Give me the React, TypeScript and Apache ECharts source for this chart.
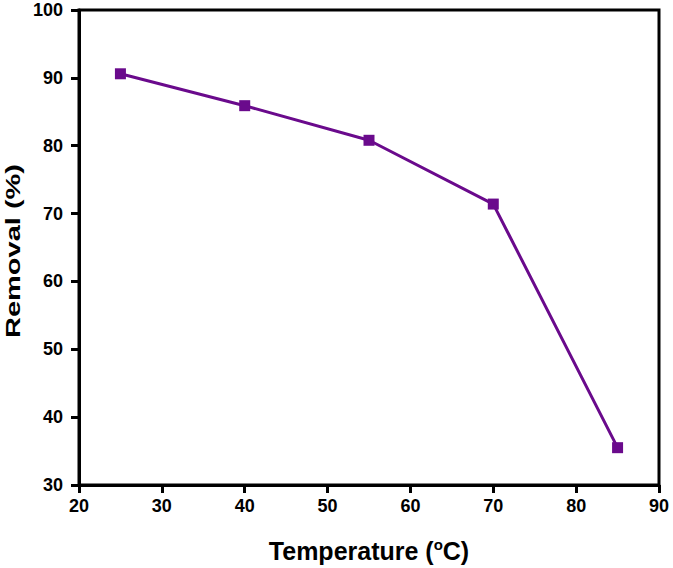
import React, { useEffect, useRef } from "react";
import * as echarts from "echarts";

const temperatures = [25, 40, 55, 70, 85];
const removal = [90.6, 85.9, 80.8, 71.4, 35.5];
const xTicks = [20, 30, 40, 50, 60, 70, 80, 90];
const yTicks = [30, 40, 50, 60, 70, 80, 90, 100];
const xTitle = "Temperature ({sup|o}C)";
const yTitle = "Removal (%)";

export default function App() {
  const ref = useRef<HTMLDivElement>(null);
  useEffect(() => {
    const chart = echarts.init(ref.current!, null, { renderer: "svg" });
    const font = "Liberation Sans, Arial, sans-serif";
    chart.setOption({
      animation: false,
      backgroundColor: "#fff",
      grid: {
        left: 79,
        right: 14,
        top: 10,
        bottom: 82,
        show: true,
        borderColor: "#000",
        borderWidth: 3,
        backgroundColor: "transparent",
      },
      graphic: [
        {
          type: "text",
          x: 13,
          y: 251,
          rotation: Math.PI / 2,
          scaleX: 1.38,
          scaleY: 1,
          style: {
            text: yTitle,
            fontFamily: font,
            fontWeight: "bold",
            fontSize: 21,
            fill: "#000",
            align: "center",
            verticalAlign: "middle",
          },
        },
      ],
      xAxis: {
        type: "value",
        min: xTicks[0],
        max: xTicks[xTicks.length - 1],
        interval: 10,
        name: xTitle,
        nameLocation: "middle",
        nameGap: 52,
        nameTextStyle: {
          fontFamily: font,
          fontWeight: "bold",
          fontSize: 25,
          color: "#000",
          rich: {
            sup: {
              fontFamily: font,
              fontWeight: "bold",
              fontSize: 15,
              color: "#000",
              verticalAlign: "top",
              padding: [0, 0, 12, 0],
            },
          },
        },
        axisLine: { show: true, lineStyle: { color: "#000", width: 3 } },
        axisTick: { show: true, length: 8, lineStyle: { color: "#000", width: 3 } },
        axisLabel: {
          fontFamily: font,
          fontWeight: "bold",
          fontSize: 18,
          color: "#000",
          margin: 12,
        },
        splitLine: { show: false },
      },
      yAxis: {
        type: "value",
        min: yTicks[0],
        max: yTicks[yTicks.length - 1],
        interval: 10,
        axisLine: { show: true, lineStyle: { color: "#000", width: 3 } },
        axisTick: { show: true, length: 8, lineStyle: { color: "#000", width: 3 } },
        axisLabel: {
          fontFamily: font,
          fontWeight: "bold",
          fontSize: 18,
          color: "#000",
          margin: 16,
        },
        splitLine: { show: false },
      },
      series: [
        {
          type: "line",
          data: temperatures.map((t, i) => [t, removal[i]]),
          symbol: "rect",
          symbolSize: 11,
          lineStyle: { color: "#6a0a8c", width: 3 },
          itemStyle: { color: "#6a0a8c" },
        },
      ],
    });
    return () => chart.dispose();
  }, []);
  return (
    <div
      ref={ref}
      style={{ position: "absolute", left: 0, top: 0, width: 673, height: 568 }}
    />
  );
}
